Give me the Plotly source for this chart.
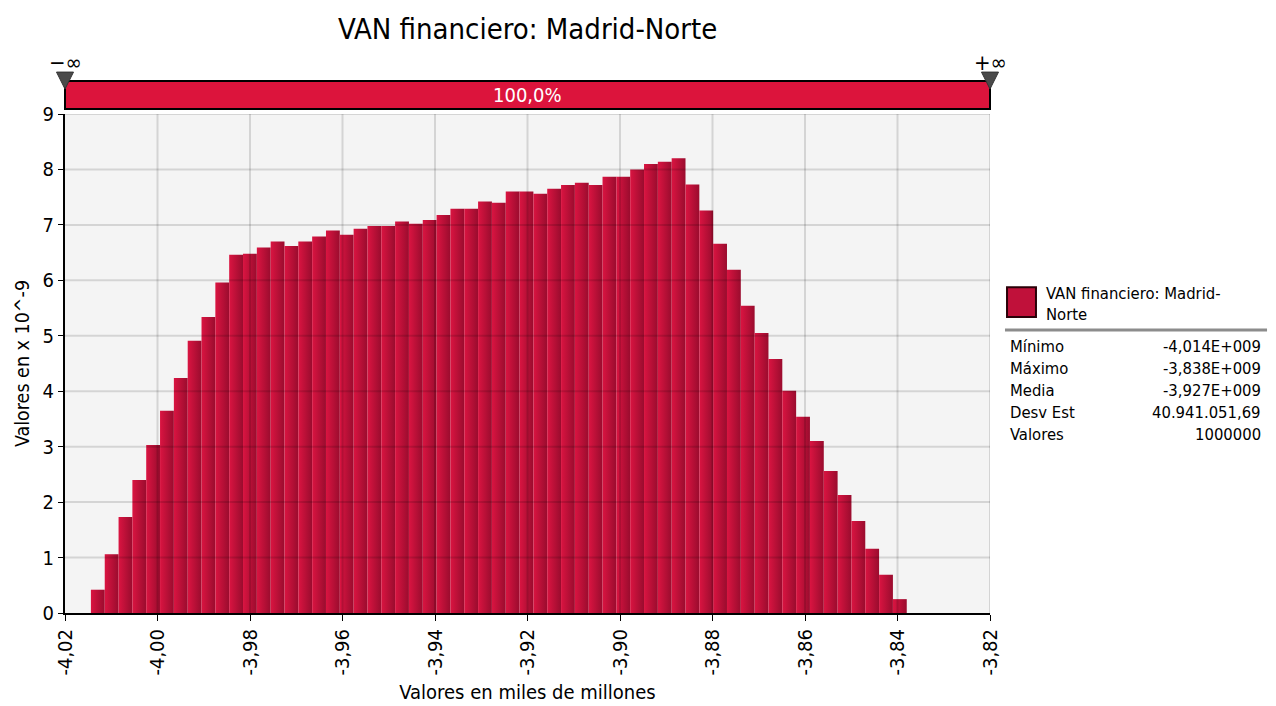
import numpy as np
import plotly.graph_objects as go

# Datos del histograma (densidad x 10^-9)
titulo = 'VAN financiero: Madrid-Norte'
densidad = [0.42, 1.06, 1.73, 2.40, 3.03, 3.65, 4.24, 4.91, 5.34, 5.96,
            6.46, 6.48, 6.59, 6.70, 6.62, 6.70, 6.79, 6.90, 6.82, 6.93,
            6.98, 6.98, 7.06, 7.02, 7.09, 7.18, 7.29, 7.29, 7.42, 7.40,
            7.60, 7.60, 7.56, 7.65, 7.72, 7.76, 7.72, 7.87, 7.87, 8.00,
            8.10, 8.14, 8.20, 7.73, 7.26, 6.66, 6.19, 5.54, 5.05, 4.58,
            4.01, 3.54, 3.10, 2.56, 2.13, 1.66, 1.16, 0.69, 0.25]
valor_min = -4.0144
valor_max = -3.838

x_tickvals = [-4.02, -4.00, -3.98, -3.96, -3.94, -3.92, -3.90, -3.88, -3.86, -3.84, -3.82]
x_ticktext = ['-4,02', '-4,00', '-3,98', '-3,96', '-3,94', '-3,92', '-3,90', '-3,88',
              '-3,86', '-3,84', '-3,82']
y_tickvals = [0, 1, 2, 3, 4, 5, 6, 7, 8, 9]

stats_nombres = ['Mínimo', 'Máximo', 'Media', 'Desv Est', 'Valores']
stats_valores = ['-4,014E+009', '-3,838E+009', '-3,927E+009', '40.941.051,69', '1000000']

FONT = 'DejaVu Sans Condensed, Liberation Sans, sans-serif'
ROJO_CLARO = '#DA1441'
ROJO_OSCURO = '#9A0C2E'

fig = go.Figure()

bordes = np.linspace(valor_min, valor_max, len(densidad) + 1)
for i, h in enumerate(densidad):
    l, r = bordes[i], bordes[i + 1]
    fig.add_trace(go.Scatter(
        x=[l, l, r, r, l], y=[0, h, h, 0, 0],
        mode='lines', line=dict(width=0), fill='toself',
        fillgradient=dict(type='horizontal',
                          colorscale=[[0, ROJO_CLARO], [1, ROJO_OSCURO]]),
        showlegend=False, hoverinfo='skip'))

fig.update_xaxes(range=[-4.02, -3.82], tickvals=x_tickvals, ticktext=x_ticktext,
                 tickangle=-90, ticks='outside', ticklen=6, tickcolor='black',
                 showline=True, linecolor='black', linewidth=2,
                 showgrid=False, zeroline=False, automargin=False,
                 tickfont=dict(size=20, color='black', family=FONT),
                 title=dict(text='Valores en miles de millones',
                            font=dict(size=20, color='black', family=FONT), standoff=10))
fig.update_yaxes(range=[0, 9], tickvals=y_tickvals, ticks='outside', ticklen=5,
                 tickcolor='black', showline=True, linecolor='black', linewidth=2,
                 showgrid=False, zeroline=False, automargin=False,
                 tickfont=dict(size=20, color='black', family=FONT),
                 title=dict(text='Valores en x 10^-9',
                            font=dict(size=19.5, color='black', family=FONT), standoff=8))

grid = 'rgba(0,0,0,0.13)'
shapes = []
# rejilla por encima de las barras
for xv in x_tickvals[1:]:
    shapes.append(dict(type='line', xref='x', yref='paper', x0=xv, x1=xv, y0=0, y1=1,
                       layer='above', line=dict(color=grid, width=2)))
for yv in y_tickvals[1:]:
    shapes.append(dict(type='line', xref='paper', yref='y', x0=0, x1=1, y0=yv, y1=yv,
                       layer='above', line=dict(color=grid, width=2)))

# barra superior de probabilidad
shapes += [
    dict(type='rect', xref='paper', yref='paper', x0=0, x1=1, y0=1.010, y1=1.066,
         fillcolor='#DC143C', line=dict(color='black', width=2)),
    dict(type='path', xref='paper', yref='paper',
         path='M -0.0092,1.084 L 0.0092,1.084 L 0,1.050 Z',
         fillcolor='#4A4A4A', line=dict(color='#333333', width=1)),
    dict(type='path', xref='paper', yref='paper',
         path='M 0.9908,1.084 L 1.0092,1.084 L 1,1.050 Z',
         fillcolor='#4A4A4A', line=dict(color='#333333', width=1)),
    # leyenda
    dict(type='rect', xref='paper', yref='paper', x0=1.0184, x1=1.0497, y0=0.593, y1=0.653,
         fillcolor='#C0113A', line=dict(color='#2A0008', width=2)),
    dict(type='line', xref='paper', yref='paper', x0=1.0162, x1=1.2995, y0=0.567, y1=0.567,
         line=dict(color='#8C8C8C', width=3)),
]

annotations = [
    dict(text='100,0%', xref='paper', yref='paper', x=0.5, y=1.038, showarrow=False,
         xanchor='center', yanchor='middle',
         font=dict(size=20, color='white', family=FONT)),
    dict(text='−∞', xref='paper', yref='paper', x=0, y=1.104, showarrow=False,
         xanchor='center', yanchor='middle',
         font=dict(size=22, color='black', family=FONT)),
    dict(text='+∞', xref='paper', yref='paper', x=1, y=1.104, showarrow=False,
         xanchor='center', yanchor='middle',
         font=dict(size=22, color='black', family=FONT)),
    dict(text='VAN financiero: Madrid-<br>Norte', xref='paper', yref='paper',
         x=1.0584, y=0.664, xanchor='left', yanchor='top', align='left', showarrow=False,
         font=dict(size=16.5, color='black', family=FONT)),
]
for k, (n, v) in enumerate(zip(stats_nombres, stats_valores)):
    yy = 0.535 - k * 0.0445
    annotations.append(dict(text=n, xref='paper', yref='paper', x=1.0195, y=yy,
                            xanchor='left', yanchor='middle', showarrow=False,
                            font=dict(size=16.5, color='black', family=FONT)))
    annotations.append(dict(text=v, xref='paper', yref='paper', x=1.2951, y=yy,
                            xanchor='right', yanchor='middle', showarrow=False,
                            font=dict(size=16.5, color='black', family=FONT)))

fig.update_layout(
    width=1276, height=706,
    margin=dict(l=65, r=286, t=114, b=93),
    paper_bgcolor='white', plot_bgcolor='#F4F4F4',
    title=dict(text=titulo, x=0.4135, xanchor='center', y=0.959, yanchor='middle',
               font=dict(size=29, color='black', family=FONT)),
    shapes=shapes, annotations=annotations,
    showlegend=False,
)

fig.write_html('out.html', config={'displayModeBar': False},
               post_script="document.body.style.margin='0';")
